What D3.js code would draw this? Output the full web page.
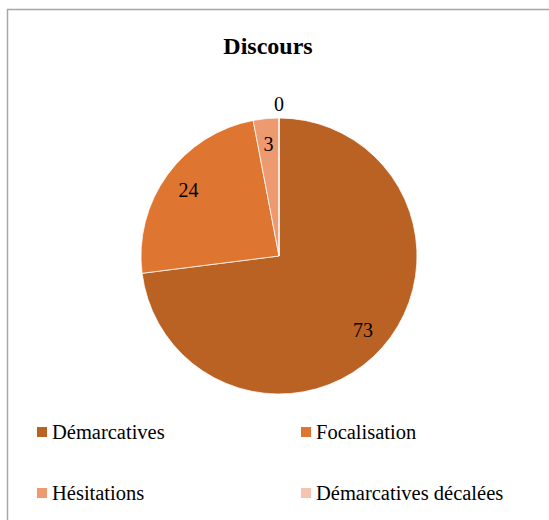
<!DOCTYPE html>
<html>
<head>
<meta charset="utf-8">
<script src="https://d3js.org/d3.v7.min.js"></script>
<style>
  body { margin: 0; background: #fff; }
</style>
</head>
<body>
<div id="chart"></div>
<script>
// data
var categories = ["Démarcatives", "Focalisation", "Hésitations", "Démarcatives décalées"];
var values = [73, 24, 3, 0];
var colors = ["#BA6224", "#DE7530", "#EE9A70", "#F5C3B0"];

var serif = "'Liberation Serif', 'Times New Roman', Tinos, 'DejaVu Serif', serif";
var width = 549, height = 520;
var cx = 279, cy = 256, radius = 138;

var svg = d3.select("#chart").append("svg")
  .attr("width", width)
  .attr("height", height)
  .style("font-family", serif);

// chart frame (top and left edges visible)
svg.append("path")
  .attr("d", "M7.5," + height + "V9.5H" + width)
  .attr("fill", "none")
  .attr("stroke", "#A6A6A6")
  .attr("stroke-width", 1.5);

svg.append("text")
  .attr("x", 268)
  .attr("y", 54)
  .attr("text-anchor", "middle")
  .style("font-family", serif)
  .style("font-size", "24px")
  .style("font-weight", "bold")
  .text("Discours");

var data = categories.map(function(c, i) { return {name: c, value: values[i], color: colors[i]}; });

var pie = d3.pie().sort(null).value(function(d) { return d.value; });
var arc = d3.arc().innerRadius(0).outerRadius(radius);
var labelArc = d3.arc().innerRadius(112).outerRadius(112);
var outerLabelArc = d3.arc().innerRadius(152).outerRadius(152);

var g = svg.append("g").attr("transform", "translate(" + cx + "," + cy + ")");
var arcs = pie(data);

g.selectAll("path.slice")
  .data(arcs)
  .enter().append("path")
  .attr("class", "slice")
  .attr("d", arc)
  .attr("fill", function(d) { return d.data.color; })
  .attr("stroke", "#fff")
  .attr("stroke-width", 0.75);

g.selectAll("text.label")
  .data(arcs)
  .enter().append("text")
  .attr("class", "label")
  .attr("transform", function(d) {
    var p = d.data.value === 0 ? outerLabelArc.centroid(d) : labelArc.centroid(d);
    return "translate(" + p + ")";
  })
  .attr("text-anchor", "middle")
  .attr("dy", "0.35em")
  .style("font-family", serif)
  .style("font-size", "20px")
  .text(function(d) { return d.data.value; });

// legend, two columns
var legend = svg.selectAll("g.legend")
  .data(data)
  .enter().append("g")
  .attr("class", "legend")
  .attr("transform", function(d, i) {
    return "translate(" + (i % 2 === 0 ? 37 : 301) + "," + (i < 2 ? 427 : 488) + ")";
  });

legend.append("rect")
  .attr("width", 10)
  .attr("height", 10)
  .attr("fill", function(d) { return d.color; });

legend.append("text")
  .attr("x", 15)
  .attr("y", 12)
  .style("font-family", serif)
  .style("font-size", "20.5px")
  .text(function(d) { return d.name; });
</script>
</body>
</html>
